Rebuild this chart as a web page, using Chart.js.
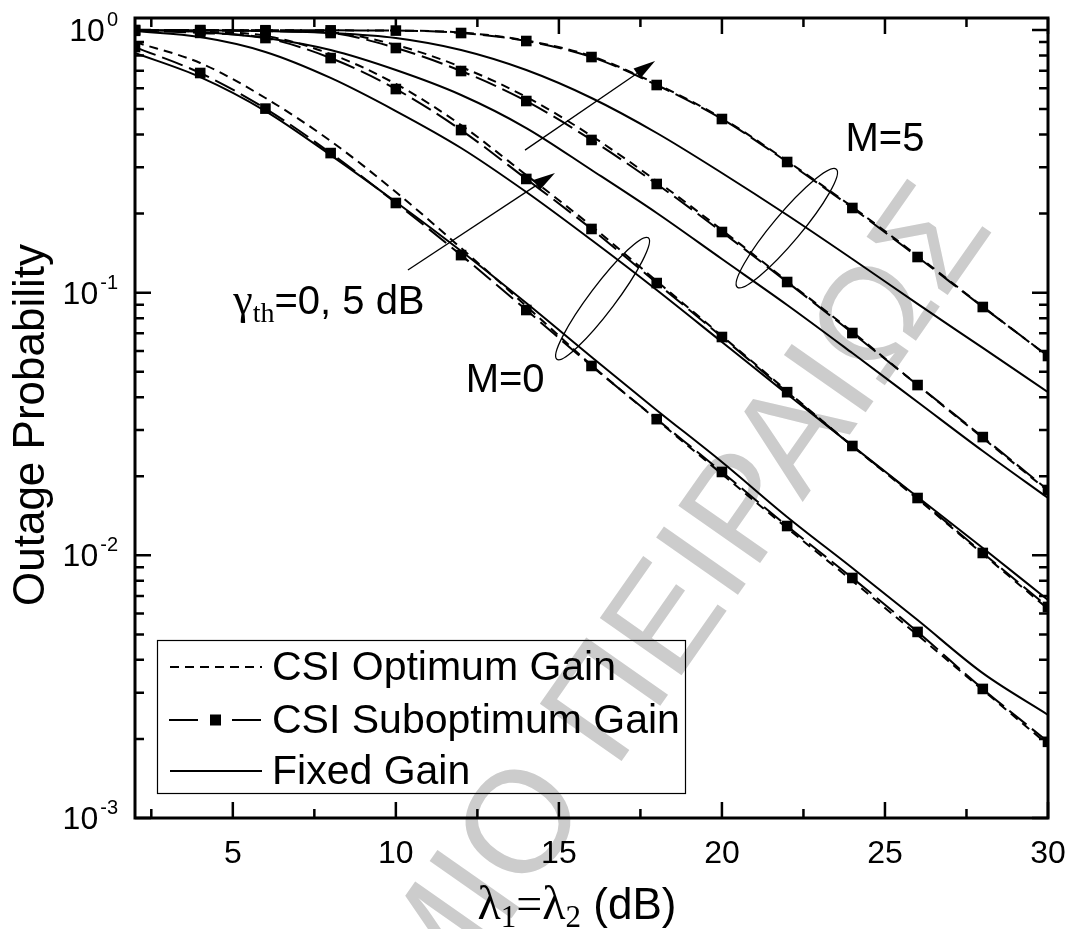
<!DOCTYPE html>
<html><head><meta charset="utf-8">
<script src="https://cdn.jsdelivr.net/npm/chart.js@4/dist/chart.umd.min.js"></script>
<style>html,body{margin:0;padding:0;background:#fff;}canvas{display:block;}</style>
</head><body>
<canvas id="c" width="1073" height="929"></canvas>
<script>
// ---- data (x in dB, outage probability) ----
const X_DB = [2,4,6,8,10,12,14,16,18,20,22,24,26,28,30];

// M=0, gamma_th = 0 dB
const OPT_M0_T0 = [0.900,0.749,0.551,0.378,0.2416,0.1479,0.0889,0.0530,0.0328,0.0204,0.0127,0.00799,0.00497,0.00307,0.00190];
const SUB_M0_T0 = [0.861,0.686,0.502,0.340,0.2195,0.139,0.0859,0.0526,0.0330,0.02077,0.01293,0.0082,0.00511,0.0031,0.00195];
const FIX_M0_T0 = [0.818,0.662,0.4915,0.334,0.2215,0.1441,0.0913,0.0569,0.0357,0.02266,0.0140,0.00895,0.00567,0.00356,0.00247];
// M=0, gamma_th = 5 dB
const OPT_M0_T5 = [0.996,0.985,0.950,0.810,0.623,0.4347,0.2805,0.1794,0.1107,0.0684,0.0422,0.02608,0.01639,0.01012,0.00625];
const SUB_M0_T5 = [0.993,0.975,0.932,0.782,0.596,0.416,0.271,0.1748,0.1088,0.0678,0.0418,0.02608,0.01653,0.01021,0.00636];
const FIX_M0_T5 = [0.991,0.940,0.825,0.657,0.4915,0.3555,0.2416,0.1586,0.1024,0.0649,0.0411,0.0261,0.01668,0.01066,0.00676];
// M=5, gamma_th = 0 dB
const OPT_M5_T0 = [0.999,0.998,0.993,0.980,0.877,0.723,0.556,0.395,0.266,0.1733,0.1107,0.0709,0.0445,0.02797,0.01758];
const SUB_M5_T0 = [0.999,0.998,0.991,0.974,0.854,0.698,0.5366,0.3814,0.2593,0.1702,0.1098,0.0702,0.0445,0.0282,0.01773];
const FIX_M5_T0 = [0.999,0.983,0.932,0.839,0.704,0.5657,0.4235,0.2931,0.2010,0.1343,0.0898,0.0589,0.03835,0.02495,0.01653];
// M=5, gamma_th = 5 dB
const OPT_M5_T5 = [0.999,0.999,0.998,0.997,0.995,0.978,0.912,0.795,0.622,0.462,0.317,0.212,0.138,0.0885,0.0572];
const SUB_M5_T5 = [0.999,0.999,0.998,0.997,0.995,0.974,0.908,0.789,0.6174,0.4583,0.3144,0.2101,0.1367,0.0882,0.0574];
const FIX_M5_T5 = [0.999,0.998,0.991,0.974,0.932,0.839,0.704,0.551,0.4054,0.2855,0.1975,0.1343,0.0906,0.0616,0.0418];

// ---- axes ----
const X_MIN = 2, X_MAX = 30;
const Y_MIN = 0.001, Y_MAX = 1.111;
const X_TICKS = [5,10,15,20,25,30];
const X_TICK_LABELS = ['5','10','15','20','25','30'];
const X_MINOR = [2.5,7.5,12.5,17.5,22.5,27.5];
const Y_TICKS = [0.001,0.01,0.1,1];
const Y_TICK_EXP = ['-3','-2','-1','0'];
const Y_MINOR_MANT = [2,3,4,5,6,7,8,9];
const Y_MINOR_DECADES = [0.001,0.01,0.1];

// ---- text ----
const Y_TITLE = 'Outage Probability';
const LEGEND_LABELS = ['CSI Optimum Gain','CSI Suboptimum Gain','Fixed Gain'];
const WATERMARK = 'ΠΑΝΕΠΙΣΤΗΜΙΟ ΠΕΙΡΑΙΩΣ';

// annotations in data coordinates
const LABEL_M5 = {x:25.0, y:0.381, text:'M=5'};
const LABEL_M0 = {x:13.35, y:0.046, text:'M=0'};
const LABEL_GAMMA = {xEnd:10.88, y:0.094};
const ELLIPSE_M5 = {x:21.99, y:0.176, a:77, b:14, rot:-50};
const ELLIPSE_M0 = {x:16.34, y:0.095, a:76, b:13, rot:-53};
const ARROWS = [
  {x0:13.96, y0:0.349, x1:17.95, y1:0.762},
  {x0:10.37, y0:0.122, x1:14.88, y1:0.2855}
];

const pts = arr => X_DB.map((x,i)=>({x:x, y:arr[i]}));
const SANS = '"Liberation Sans", Arial, Helvetica, sans-serif';
const SERIF = '"Liberation Serif", "Times New Roman", serif';

function optDS(arr){return {data:pts(arr), borderColor:'#000', borderWidth:2, borderDash:[9,6], pointRadius:0, cubicInterpolationMode:'monotone', fill:false};}
function subDS(arr){return {data:pts(arr), borderColor:'#000', borderWidth:2, borderDash:[22,7], pointStyle:'rect', pointRadius:7.5, pointBackgroundColor:'#000', pointBorderColor:'#000', pointBorderWidth:0, cubicInterpolationMode:'monotone', fill:false};}
function fixDS(arr){return {data:pts(arr), borderColor:'#000', borderWidth:2, pointRadius:0, cubicInterpolationMode:'monotone', fill:false};}

const datasets = [
  optDS(OPT_M0_T0), subDS(SUB_M0_T0), fixDS(FIX_M0_T0),
  optDS(OPT_M0_T5), subDS(SUB_M0_T5), fixDS(FIX_M0_T5),
  optDS(OPT_M5_T0), subDS(SUB_M5_T0), fixDS(FIX_M5_T0),
  optDS(OPT_M5_T5), subDS(SUB_M5_T5), fixDS(FIX_M5_T5)
];

function drawParts(ctx, parts, x, y){
  let cx = x;
  parts.forEach(p=>{ctx.font=p.f; ctx.fillText(p.t, cx, y + (p.dy||0)); cx += ctx.measureText(p.t).width;});
  return cx;
}
function partsWidth(ctx, parts){
  let w=0; parts.forEach(p=>{ctx.font=p.f; w+=ctx.measureText(p.t).width;}); return w;
}
function arrow(ctx, x0,y0,x1,y1){
  ctx.beginPath(); ctx.moveTo(x0,y0);
  const ang = Math.atan2(y1-y0, x1-x0);
  const L = 22, W = 6;
  const bx = x1 - L*Math.cos(ang), by = y1 - L*Math.sin(ang);
  ctx.lineTo(bx,by); ctx.stroke();
  ctx.beginPath(); ctx.moveTo(x1,y1);
  ctx.lineTo(bx - W*Math.sin(ang), by + W*Math.cos(ang));
  ctx.lineTo(bx + W*Math.sin(ang), by - W*Math.cos(ang));
  ctx.closePath(); ctx.fill();
}

const deco = {
  id:'deco',
  beforeDatasetsDraw(chart){
    const ctx = chart.ctx;
    ctx.save();
    ctx.translate(962,205);
    ctx.rotate(-55*Math.PI/180);
    ctx.font = '145px ' + SANS;
    ctx.fillStyle = '#cccccc';
    ctx.textAlign = 'right'; ctx.textBaseline = 'middle';
    ctx.fillText(WATERMARK, 0, 0);
    ctx.restore();
  },
  afterDatasetsDraw(chart){
    const ctx = chart.ctx, a = chart.chartArea, xs = chart.scales.x, ys = chart.scales.y;
    ctx.save();
    ctx.strokeStyle = '#000'; ctx.fillStyle = '#000'; ctx.setLineDash([]);
    // frame
    ctx.lineWidth = 3;
    ctx.strokeRect(a.left, a.top, a.right-a.left, a.bottom-a.top);
    // ticks
    ctx.lineWidth = 2.5;
    const MAJ = 16, MIN = 9;
    ctx.beginPath();
    X_TICKS.forEach(v=>{const p=xs.getPixelForValue(v); ctx.moveTo(p,a.bottom); ctx.lineTo(p,a.bottom-MAJ); ctx.moveTo(p,a.top); ctx.lineTo(p,a.top+MAJ);});
    X_MINOR.forEach(v=>{const p=xs.getPixelForValue(v); ctx.moveTo(p,a.bottom); ctx.lineTo(p,a.bottom-MIN); ctx.moveTo(p,a.top); ctx.lineTo(p,a.top+MIN);});
    Y_TICKS.forEach(v=>{const p=ys.getPixelForValue(v); ctx.moveTo(a.left,p); ctx.lineTo(a.left+MAJ,p); ctx.moveTo(a.right,p); ctx.lineTo(a.right-MAJ,p);});
    Y_MINOR_DECADES.forEach(d=>Y_MINOR_MANT.forEach(m=>{const p=ys.getPixelForValue(m*d); ctx.moveTo(a.left,p); ctx.lineTo(a.left+MIN,p); ctx.moveTo(a.right,p); ctx.lineTo(a.right-MIN,p);}));
    ctx.stroke();
    // x tick labels
    ctx.font = '32px ' + SANS; ctx.textAlign='center'; ctx.textBaseline='alphabetic';
    X_TICKS.forEach((v,i)=>{ctx.fillText(X_TICK_LABELS[i], xs.getPixelForValue(v), a.bottom+45);});
    // y tick labels 10^k
    Y_TICKS.forEach((v,i)=>{
      const p = ys.getPixelForValue(v);
      ctx.textAlign='left';
      ctx.font = '20px ' + SANS; const we = ctx.measureText(Y_TICK_EXP[i]).width;
      ctx.font = '32px ' + SANS; const wb = ctx.measureText('10').width;
      const xr = a.left - 17;
      const x0 = xr - we - wb - 2;
      ctx.fillText('10', x0, p + 11);
      ctx.font = '20px ' + SANS; ctx.fillText(Y_TICK_EXP[i], x0 + wb + 2, p - 4);
    });
    // y title
    ctx.save();
    ctx.translate(32, 425);
    ctx.rotate(-Math.PI/2);
    ctx.font = '44px ' + SANS; ctx.textAlign='center'; ctx.textBaseline='middle';
    ctx.fillText(Y_TITLE, 0, 0);
    ctx.restore();
    // x title  λ1=λ2 (dB)
    ctx.textAlign='left'; ctx.textBaseline='alphabetic';
    const xt = [
      {t:'λ', f:'48px '+SERIF},{t:'1', f:'31px '+SERIF, dy:8},{t:'=', f:'46px '+SERIF},
      {t:'λ', f:'48px '+SERIF},{t:'2', f:'31px '+SERIF, dy:8},{t:' (dB)', f:'44px '+SANS}
    ];
    const xw = partsWidth(ctx, xt);
    drawParts(ctx, xt, 577 - xw/2, 919);
    // legend
    ctx.lineWidth = 1.2;
    ctx.strokeRect(157.5, 640.5, 528, 153);
    const rows = [667, 720, 771];
    ctx.font = '41px ' + SANS; ctx.textBaseline='middle';
    LEGEND_LABELS.forEach((t,i)=>ctx.fillText(t, 272, rows[i]+2));
    ctx.lineWidth = 2;
    ctx.setLineDash([9,6]);
    ctx.beginPath(); ctx.moveTo(170, rows[0]); ctx.lineTo(262, rows[0]); ctx.stroke();
    ctx.setLineDash([]);
    ctx.beginPath(); ctx.moveTo(169, rows[1]); ctx.lineTo(198, rows[1]); ctx.moveTo(232, rows[1]); ctx.lineTo(261, rows[1]); ctx.stroke();
    ctx.fillRect(210, rows[1]-5.5, 11, 11);
    ctx.beginPath(); ctx.moveTo(170, rows[2]); ctx.lineTo(262, rows[2]); ctx.stroke();
    // annotations
    ctx.lineWidth = 1.3;
    [ELLIPSE_M5, ELLIPSE_M0].forEach(e=>{
      ctx.beginPath();
      ctx.ellipse(xs.getPixelForValue(e.x), ys.getPixelForValue(e.y), e.a, e.b, e.rot*Math.PI/180, 0, 2*Math.PI);
      ctx.stroke();
    });
    ARROWS.forEach(r=>arrow(ctx, xs.getPixelForValue(r.x0), ys.getPixelForValue(r.y0), xs.getPixelForValue(r.x1), ys.getPixelForValue(r.y1)));
    ctx.font = '40px ' + SANS; ctx.textAlign='center'; ctx.textBaseline='middle';
    ctx.fillText(LABEL_M5.text, xs.getPixelForValue(LABEL_M5.x), ys.getPixelForValue(LABEL_M5.y));
    ctx.fillText(LABEL_M0.text, xs.getPixelForValue(LABEL_M0.x), ys.getPixelForValue(LABEL_M0.y));
    ctx.textAlign='left'; ctx.textBaseline='alphabetic';
    const gp = [{t:'γ', f:'44px '+SERIF},{t:'th', f:'28px '+SERIF, dy:8},{t:'=0, 5 dB', f:'40px '+SANS}];
    const gw = partsWidth(ctx, gp);
    drawParts(ctx, gp, xs.getPixelForValue(LABEL_GAMMA.xEnd) - gw, ys.getPixelForValue(LABEL_GAMMA.y) + 14);
    ctx.restore();
  }
};

new Chart(document.getElementById('c').getContext('2d'), {
  type:'line',
  data:{datasets},
  options:{
    responsive:false, animation:false,
    layout:{padding:{left:135, top:18, right:25, bottom:111}},
    scales:{
      x:{type:'linear', min:X_MIN, max:X_MAX, display:false},
      y:{type:'logarithmic', min:Y_MIN, max:Y_MAX, display:false}
    },
    plugins:{legend:{display:false}, tooltip:{enabled:false}}
  },
  plugins:[deco]
});
</script>
</body></html>
